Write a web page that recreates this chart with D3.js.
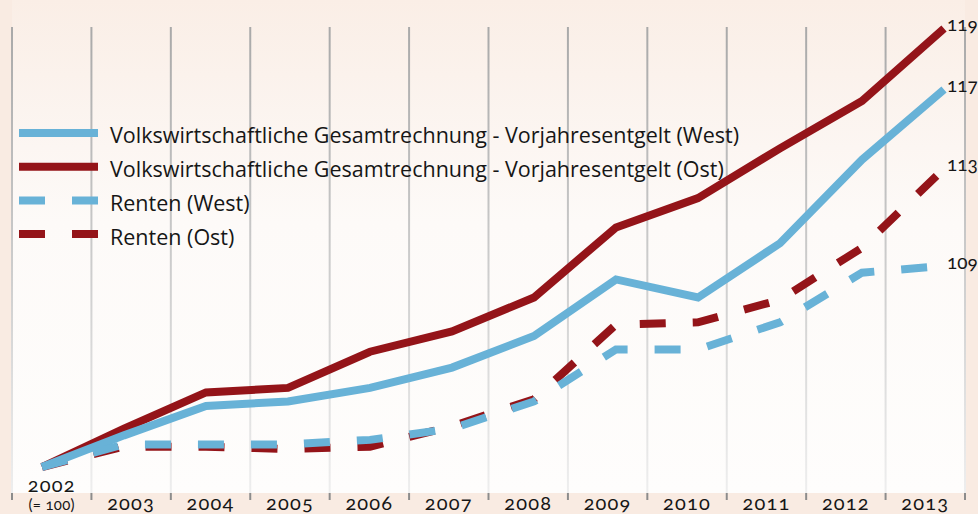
<!DOCTYPE html>
<meta charset="utf-8">
<script src="https://cdn.jsdelivr.net/npm/d3@7"></script>
<style>
    body { margin: 0; background: #f9ebe2; }
    svg { display: block; }
    .legend text { font: 21.5px "Open Sans", sans-serif; fill: #161616; }
    .axis text { font: 20px Lato, sans-serif; fill: #161616; letter-spacing: 1.2px; font-variant-numeric: oldstyle-nums; }
    .axis .sub { font-size: 15px; letter-spacing: 0.3px; }
    .end-label { font: 19px Lato, sans-serif; fill: #161616; font-variant-numeric: oldstyle-nums; }
</style>
<body>
<svg class="chart"></svg>
<script>
    ///////////////////////
    // Data (2002 = 100)
    var years = [2002, 2003, 2004, 2005, 2006, 2007, 2008, 2009, 2010, 2011, 2012, 2013];

    var vgrWest    = [100, 101.4, 102.7, 102.9, 103.5, 104.4, 105.8, 108.3, 107.5, 109.9, 113.6, 116.7];
    var vgrOst     = [100, 101.7, 103.3, 103.5, 105.1, 106.0, 107.5, 110.6, 111.9, 114.1, 116.2, 119.4];
    var rentenWest = [100, 101.0, 101.0, 101.0, 101.2, 101.7, 102.9, 105.2, 105.2, 106.4, 108.6, 108.9];
    var rentenOst  = [100, 100.9, 100.9, 100.8, 100.9, 101.8, 103.0, 106.3, 106.4, 107.4, 109.7, 113.2];

    var seriesNames = [
        "Volkswirtschaftliche Gesamtrechnung - Vorjahresentgelt (West)",
        "Volkswirtschaftliche Gesamtrechnung - Vorjahresentgelt (Ost)",
        "Renten (West)",
        "Renten (Ost)"
    ];
    var endLabels = ["117", "119", "109", "113"];

    var blue = "#68b2d7";
    var red = "#941419";

    var series = [
        { name: seriesNames[0], values: vgrWest, color: blue, dashed: false, label: endLabels[0] },
        { name: seriesNames[1], values: vgrOst, color: red, dashed: false, label: endLabels[1] },
        { name: seriesNames[2], values: rentenWest, color: blue, dashed: true, label: endLabels[2] },
        { name: seriesNames[3], values: rentenOst, color: red, dashed: true, label: endLabels[3] }
    ];

    ///////////////////////
    // Chart Size Setup
    var width = 978, height = 514;
    var plotLeft = 12, plotRight = 965, plotBottom = 493, gridTop = 27;

    var svg = d3.select(".chart")
        .attr("width", width)
        .attr("height", height);

    var defs = svg.append("defs");

    var bgGrad = defs.append("linearGradient")
        .attr("id", "bg-grad")
        .attr("x1", 0).attr("y1", 0).attr("x2", 0).attr("y2", 1);
    bgGrad.append("stop").attr("offset", "0%").attr("stop-color", "#faeee6");
    bgGrad.append("stop").attr("offset", "45%").attr("stop-color", "#fdfaf8");
    bgGrad.append("stop").attr("offset", "100%").attr("stop-color", "#fefdfc");

    var gridGrad = defs.append("linearGradient")
        .attr("id", "grid-grad")
        .attr("gradientUnits", "userSpaceOnUse")
        .attr("x1", 0).attr("y1", gridTop).attr("x2", 0).attr("y2", plotBottom);
    gridGrad.append("stop").attr("offset", "0%").attr("stop-color", "#a9a9a9");
    gridGrad.append("stop").attr("offset", "100%").attr("stop-color", "#eeeeee");

    svg.append("rect")
        .attr("width", width).attr("height", height)
        .attr("fill", "#f9ebe2");

    svg.append("rect")
        .attr("x", plotLeft).attr("y", 0)
        .attr("width", plotRight - plotLeft).attr("height", plotBottom)
        .attr("fill", "url(#bg-grad)");

    ///////////////////////
    // Scales
    var xBand = d3.scaleBand()
        .domain(years)
        .range([plotLeft, plotRight]);

    var x = d3.scalePoint()
        .domain(years)
        .range([42, 944]);

    var y = d3.scaleLinear()
        .domain([100, 120])
        .range([467, 15]);

    ///////////////////////
    // Grid lines and ticks at band edges
    var edges = years.map(function(d) { return xBand(d); }).concat([plotRight]);

    svg.append("g")
        .selectAll("line")
        .data(edges)
        .enter().append("line")
        .attr("x1", function(d) { return d; })
        .attr("x2", function(d) { return d; })
        .attr("y1", gridTop)
        .attr("y2", plotBottom)
        .attr("stroke", "url(#grid-grad)")
        .attr("stroke-width", 2);

    svg.append("g")
        .selectAll("line")
        .data(edges)
        .enter().append("line")
        .attr("x1", function(d) { return d; })
        .attr("x2", function(d) { return d; })
        .attr("y1", plotBottom)
        .attr("y2", plotBottom + 7)
        .attr("stroke", "#8c8c8c")
        .attr("stroke-width", 2);

    ///////////////////////
    // Axis labels
    var xAxis = d3.axisBottom(xBand).tickSize(0).tickPadding(0);

    var axisG = svg.append("g")
        .attr("class", "axis")
        .attr("transform", "translate(0," + 496 + ")")
        .call(xAxis);

    axisG.select(".domain").remove();
    axisG.selectAll("text")
        .attr("font-family", null)
        .attr("font-size", null)
        .attr("fill", null)
        .attr("y", 14)
        .attr("dy", 0);

    axisG.selectAll(".tick")
        .filter(function(d) { return d === years[0]; })
        .select("text")
        .attr("y", -4)
        .text(null)
        .call(function(t) {
            t.append("tspan").attr("x", 0).text(years[0]);
            t.append("tspan").attr("class", "sub").attr("x", 0).attr("dy", 18).text("(= 100)");
        });

    ///////////////////////
    // Lines
    var line = d3.line()
        .x(function(d, i) { return x(years[i]); })
        .y(function(d) { return y(d); });

    var drawOrder = [1, 3, 0, 2];
    drawOrder.forEach(function(k) {
        var s = series[k];
        svg.append("path")
            .datum(s.values)
            .attr("fill", "none")
            .attr("stroke", s.color)
            .attr("stroke-width", 8)
            .attr("stroke-linejoin", "miter")
            .attr("stroke-dasharray", s.dashed ? "26,27" : null)
            .attr("d", line);
    });

    ///////////////////////
    // End labels
    svg.append("g")
        .selectAll("text")
        .data(series)
        .enter().append("text")
        .attr("class", "end-label")
        .attr("x", 947)
        .attr("y", function(d) { return y(d.values[d.values.length - 1]) - 4; })
        .attr("dy", "0.35em")
        .text(function(d) { return d.label; });

    ///////////////////////
    // Legend
    var legend = svg.append("g")
        .attr("class", "legend")
        .selectAll("g")
        .data(series)
        .enter().append("g")
        .attr("transform", function(d, i) { return "translate(19," + (133 + i * 33.7) + ")"; });

    legend.append("line")
        .attr("x1", 0).attr("x2", 79)
        .attr("stroke", function(d) { return d.color; })
        .attr("stroke-width", 8)
        .attr("stroke-dasharray", function(d) { return d.dashed ? "26,27" : null; });

    legend.append("text")
        .attr("x", 91)
        .attr("y", 4)
        .attr("dy", "0.3em")
        .text(function(d) { return d.name; });
</script>
</body>
